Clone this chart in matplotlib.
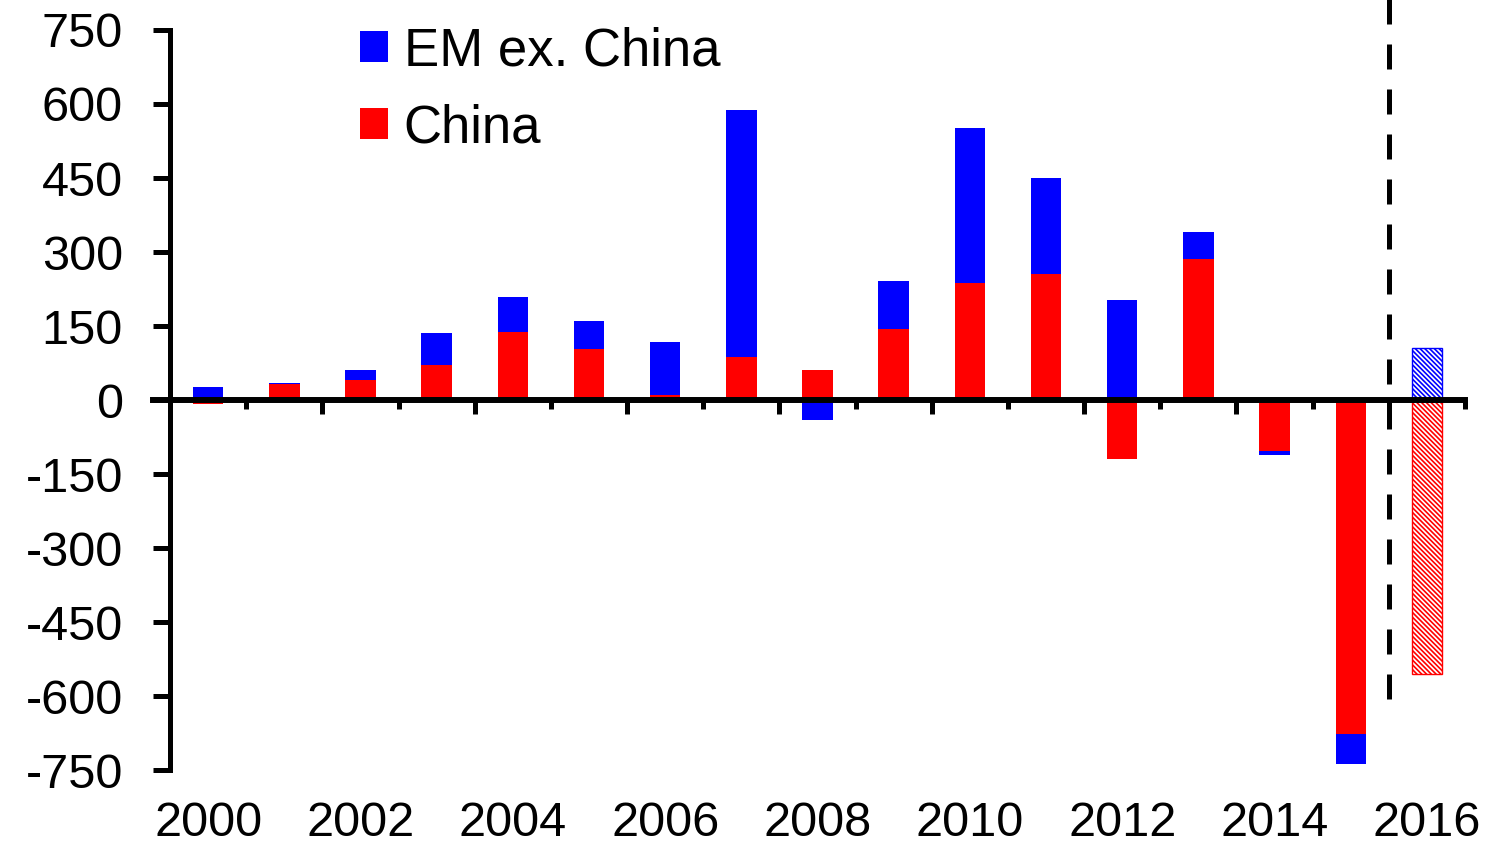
import numpy as np
import matplotlib
matplotlib.use('Agg')
import matplotlib.pyplot as plt

plt.rcParams['font.family'] = ['Liberation Sans', 'DejaVu Sans']
plt.rcParams['axes.unicode_minus'] = False
plt.rcParams['hatch.linewidth'] = 1.2

# data
years = list(range(2000, 2017))
china = [-8, 32, 41, 71, 138, 103, 10, 87, 61, 144, 237, 255, -120, 286, -103, -677, -555]
em_ex_china = [26, 3, 20, 65, 71, 57, 108, 501, -40, 97, 314, 195, 203, 54, -8, -61, 105]
year_labels = ['2000', '2002', '2004', '2006', '2008', '2010', '2012', '2014', '2016']

x = np.arange(len(years))
china = np.array(china)
em = np.array(em_ex_china)
# stack blue on top of red when they share a sign, otherwise from zero
em_bottom = np.where(np.sign(em) == np.sign(china), china, 0)

fig = plt.figure(figsize=(14.93, 8.46), dpi=100)
ax = fig.add_axes([170 / 1493, 1 - 770 / 846, 1295 / 1493, 740 / 846])

hist = x[:-1]
ax.bar(hist, china[:-1], width=0.4, color='#ff0000', linewidth=0, label='China')
ax.bar(hist, em[:-1], bottom=em_bottom[:-1], width=0.4, color='#0000ff', linewidth=0,
       label='EM ex. China')

# 2016 forecast, hatched
ax.bar(x[-1], china[-1], width=0.4, color='white', edgecolor='#ff0000', hatch='\\' * 7,
       linewidth=1)
ax.bar(x[-1], em[-1], bottom=em_bottom[-1], width=0.4, color='white', edgecolor='#0000ff',
       hatch='\\' * 7, linewidth=1)

# dashed divider before the forecast
ax.plot([15.5, 15.5], [837, -635], color='black', lw=3.6, dashes=(5, 4), clip_on=False)

ax.set_xlim(-0.5, 16.5)
ax.set_ylim(-750, 750)
ax.set_yticks(np.arange(-750, 751, 150))
ax.tick_params(axis='y', labelsize=35, length=12, width=3.6, direction='out', pad=22)

for s in ['top', 'right']:
    ax.spines[s].set_visible(False)
ax.spines['left'].set_linewidth(3.6)
ax.spines['bottom'].set_position(('data', 0))
ax.spines['bottom'].set_linewidth(4.3)
ax.spines['bottom'].set_bounds(-0.72, 16.5)

ax.set_xticks(np.arange(1.5, 16, 2))
ax.set_xticks(np.arange(0.5, 17, 2), minor=True)
ax.tick_params(axis='x', which='major', length=10, width=3.6, direction='out', labelbottom=False)
ax.tick_params(axis='x', which='minor', length=6.5, width=3.6, direction='out', labelbottom=False)

sec = ax.secondary_xaxis('bottom')
sec.set_xticks(x[::2])
sec.set_xticklabels(year_labels)
sec.tick_params(length=0, labelsize=35, pad=22)
sec.spines['bottom'].set_visible(False)

h, l = ax.get_legend_handles_labels()
ax.legend([h[1], h[0]], [l[1], l[0]], loc='upper left', bbox_to_anchor=(360 / 1493, 1 - 26 / 846),
          bbox_transform=fig.transFigure, frameon=False, fontsize=38, handlelength=0.53,
          handleheight=0.53, handletextpad=0.3, labelspacing=0.52, borderpad=0, borderaxespad=0)

fig.savefig('out.png', dpi=100)
